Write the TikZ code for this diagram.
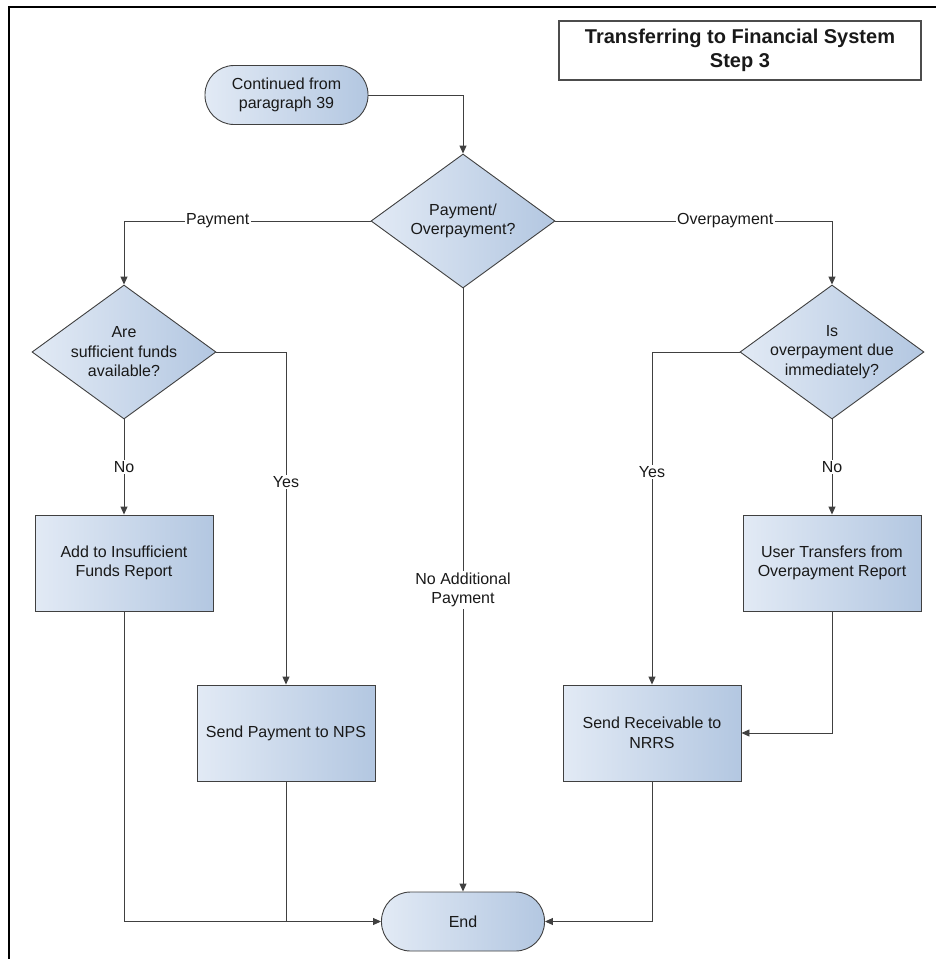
\documentclass[tikz,border=0pt]{standalone}
\usepackage{fontspec}
\setmainfont{Liberation Sans}
\usetikzlibrary{shapes.geometric,arrows.meta}

\definecolor{fillA}{HTML}{E2EAF5}
\definecolor{fillB}{HTML}{B3C7E1}
\definecolor{lineC}{HTML}{404040}

\tikzset{
  every node/.style={font=\fontsize{16pt}{19.5pt}\selectfont, text=black!90},
  proc/.style={rectangle, draw=lineC, line width=0.9pt, left color=fillA, right color=fillB,
    minimum width=178pt, minimum height=96pt, align=center, inner sep=0pt},
  term/.style={rectangle, rounded corners=29pt, draw=lineC, line width=0.9pt, left color=fillA,
    right color=fillB, minimum width=163pt, minimum height=59pt, align=center, inner sep=0pt},
  decide/.style={diamond, aspect=1.37, draw=lineC, line width=0.9pt, left color=fillA,
    right color=fillB, minimum width=184pt, minimum height=134pt, align=center, inner sep=-6pt},
  conn/.style={draw=lineC, line width=0.9pt, -{Triangle[length=8pt,width=7pt]}},
  plain/.style={draw=lineC, line width=0.9pt},
  lab/.style={fill=white, inner sep=1.5pt, align=center}
}

\begin{document}
\begin{tikzpicture}[x=1pt,y=-1pt]
\useasboundingbox (0,0) rectangle (935,959);
\draw[line width=2.5pt] (9,975) -- (9,7) -- (950,7);

\node[rectangle, draw=black!70, line width=1.2pt, fill=white, minimum width=362pt, minimum height=59pt,
  align=center, font=\fontsize{20pt}{24pt}\selectfont\bfseries] (title) at (740,50.5)
  {Transferring to Financial System\\Step 3};

% shapes
\node[term] (start) at (286.5,95) {Continued from\\paragraph 39};
\node[decide] (q1) at (463,221) {Payment/\\Overpayment?};
\node[decide] (q2) at (124,352) {Are\\sufficient funds\\available?};
\node[decide] (q3) at (832,352) {Is\\overpayment due\\immediately?};
\node[proc] (addrep) at (124,563) {Add to Insufficient\\Funds Report};
\node[proc] (userrep) at (832,563) {User Transfers from\\Overpayment Report};
\node[proc] (sendpay) at (286,733) {Send Payment to NPS};
\node[proc] (recv) at (652,733) {Send Receivable to\\NRRS};
\node[term] (stop) at (463,921.5) {End};

% connectors
\draw[conn] (start.east) -| (q1.north);
\draw[conn] (q1.west) -| node[lab, pos=0.31] {Payment} (q2.north);
\draw[conn] (q1.east) -| node[lab, pos=0.307] {Overpayment} (q3.north);
\draw[conn] (q1.south) -- node[lab] {No Additional\\Payment} (stop.north);
\draw[conn] (q2.south) -- node[lab] {No} (addrep.north);
\draw[conn] (q2.east) -| node[lab, pos=0.695] {Yes} (sendpay.north);
\draw[conn] (q3.south) -- node[lab] {No} (userrep.north);
\draw[conn] (q3.west) -| node[lab, pos=0.68] {Yes} (recv.north);
\draw[conn] (addrep.south) |- (stop.west);
\coordinate (join) at (sendpay.south |- stop.west);
\draw[plain] (sendpay.south) -- (join);
\draw[conn] (userrep.south) |- (recv.east);
\draw[conn] (recv.south) |- (stop.east);
\end{tikzpicture}
\end{document}
